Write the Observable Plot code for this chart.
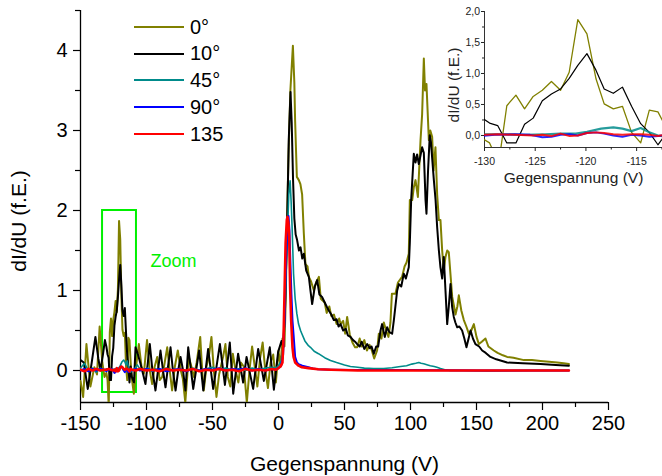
<!DOCTYPE html>
<html><head><meta charset="utf-8">
<script src="https://cdn.jsdelivr.net/npm/d3@7"></script>
<script src="https://cdn.jsdelivr.net/npm/@observablehq/plot@0.6"></script>
<style>
body{margin:0;background:#fff}
#wrap{position:relative;width:662px;height:476px;font-family:"Liberation Sans",Arial,sans-serif;color:#000}
#wrap svg{position:absolute}
#legend{position:absolute;left:134px;top:13.6px}
.row{display:flex;align-items:center;height:26.75px}
.row span{margin-left:6px;font-size:20px;line-height:26.75px}
.ylab{position:absolute;white-space:nowrap;transform:translate(-50%,-50%) rotate(-90deg);line-height:1}
</style></head>
<body><div id="wrap"><div id="legend"></div>
<div class="ylab" style="left:17.5px;top:221px;font-size:21px;">dI/dU (f.E.)</div>
<div class="ylab" style="left:453.5px;top:85px;font-size:15.5px;color:#222">dI/dU (f.E.)</div>
</div>
<script>
// ---- data: [Gegenspannung (V), dI/dU (f.E.)]
const s0 = [[-150,-0.13],[-148,-0.33],[-145.5,0.33],[-142.5,-0.2],[-139.5,0.04],[-137.5,-0.05],[-135.5,0.55],[-133.5,0.1],[-131.8,-0.08],
[-130.4,-0.03],[-129.5,-0.12],[-128.6,-0.45],[-127.8,0.48],[-126.9,0.65],[-126.05,0.43],[-125.2,0.63],[-124.3,0.73],[-123.4,0.87],[-122.5,0.73],[-121.65,1.02],[-120.8,1.87],[-119.9,1.64],[-119.0,0.91],[-118.2,0.51],[-117.3,0.43],[-116.4,0.47],[-115.5,0.05],[-114.6,-0.12],[-113.75,0.41],[-112.9,0.38],[-112.0,0.1],[-111.1,-0.1],
[-109.6,-0.29],[-107.5,0.1],[-105.8,0.33],[-103.8,0.05],[-102,-0.04],[-99.6,0.38],[-97.5,0.0],[-95.7,-0.17],[-93.8,0.05],[-91.9,0.17],[-90,-0.12],[-88.1,-0.08],[-86.2,0.1],[-84.3,0.29],[-82.4,0.0],[-80.6,-0.25],[-78.5,0.05],[-76.3,0.25],[-74,0.0],[-72.5,-0.1],[-70.6,-0.4],[-68.8,0.0],[-67.9,0.17],[-66,0.05],[-64.1,-0.08],[-62,0.1],[-59.3,0.42],[-57.8,0.0],[-56.6,-0.25],[-54.6,0.05],[-52.8,0.17],[-50.8,0.42],[-49,0.0],[-47,-0.33],[-45,-0.05],[-42,0.17],[-40.2,0.33],[-38.4,-0.08],[-36.5,-0.2],[-34.6,0.21],[-32.5,0.0],[-30.4,-0.15],[-28.5,0.1],[-26.3,0.05],[-24,-0.4],[-22,0.0],[-20,0.3],[-18,0.05],[-16,-0.2],[-14,0.15],[-12,0.35],[-10,0.0],[-8,-0.22],[-6,0.1],[-4,0.2],[-2,-0.15],[0,0.25],[1.5,0.05],[3,0.4],[4.5,0.3],[5.5,0.9],[6.5,1.9],[7.6,2.71],[9,3.5],[10.9,4.06],[12,3.6],[12.6,3.12],[13.9,2.42],[15.4,2.38],[16.6,2.33],[17.9,2.2],[19.2,1.71],[20.4,1.33],[22,1.3],[23,1.17],[24.5,1.12],[26.8,1.0],[28.5,1.1],[30.6,1.17],[32,0.9],[33,0.88],[35,0.85],[36.5,0.72],[38.5,0.8],[40,0.68],[42,0.7],[44,0.58],[46,0.65],[47,0.58],[49,0.62],[50.5,0.46],[52,0.67],[54,0.45],[56,0.35],[58,0.29],[59.6,0.29],[61.5,0.4],[63,0.3],[65,0.38],[67,0.25],[69,0.32],[70.7,0.25],[72.5,0.15],[74.7,0.25],[76,0.46],[78,0.4],[79.8,0.6],[81.5,0.5],[83.3,0.42],[84.8,0.6],[85.9,0.96],[88.6,0.96],[90.5,1.1],[93.6,1.17],[95.5,1.3],[97,1.35],[98.7,1.46],[99.5,2.13],[101.3,2.13],[102.5,2.29],[103.8,2.38],[105.6,2.17],[107.6,2.88],[108.8,3.2],[110.1,3.9],[111,3.5],[112.1,3.58],[113.9,2.88],[115,3.0],[116.4,2.92],[117.5,2.5],[118.9,2.79],[120.2,2.2],[121.5,1.88],[122.7,1.88],[124,1.5],[125.2,1.25],[126.5,1.42],[127.8,1.5],[129,1.48],[130.3,1.2],[131.6,0.92],[133,0.8],[134.1,0.7],[135.5,0.8],[136.6,0.94],[138.5,0.75],[140.4,0.63],[142.3,0.55],[144.2,0.46],[146,0.5],[148,0.58],[150,0.42],[151.8,0.33],[154,0.36],[156.8,0.4],[159,0.3],[163.1,0.25],[166,0.22],[170,0.19],[173.2,0.17],[178,0.16],[185.9,0.13],[192,0.13],[198.5,0.12],[205,0.11],[211.1,0.1],[216,0.09],[220,0.08]];

const s10 = [[-150,0.13],[-147.5,0.1],[-144.5,-0.23],[-141.5,0.1],[-138.7,0.42],[-136.5,0.15],[-134.9,0.0],[-133,0.2],[-131.5,0.38],
[-130.4,0.3],[-129.5,0.2],[-128.7,0.16],[-127.8,-0.12],[-126.9,-0.12],[-126.05,0.18],[-125.2,0.28],[-124.3,0.56],[-123.4,0.67],[-122.5,0.75],[-121.65,0.92],[-120.8,1.13],[-119.9,1.32],[-119.0,1.05],[-118.2,0.75],[-117.3,0.68],[-116.4,0.78],[-115.5,0.47],[-114.6,0.19],[-113.75,0.05],[-112.9,-0.15],[-112.0,0.05],[-111.1,-0.08],
[-109.5,-0.15],[-108.3,0.29],[-106.5,0.2],[-104.5,0.08],[-102.5,-0.05],[-100.8,-0.17],[-99,0.1],[-97.5,0.33],[-95.5,0.0],[-93.2,-0.25],[-91.3,0.0],[-89.4,0.25],[-87.5,0.0],[-85.6,-0.21],[-83.7,0.05],[-81.8,0.29],[-80,0.0],[-78,-0.25],[-76,0.0],[-74.2,0.17],[-72.3,0.0],[-70.5,-0.25],[-68.4,0.29],[-64.6,-0.23],[-60.1,0.25],[-57,-0.25],[-53.3,0.27],[-49.5,-0.23],[-44.4,0.33],[-40.6,-0.18],[-36.9,0.35],[-34.3,-0.29],[-30.6,0.21],[-26.8,-0.15],[-24.2,0.17],[-19.2,-0.23],[-15.4,0.27],[-11.1,-0.13],[-6.6,0.29],[-3.5,-0.24],[-0.3,0.23],[2.3,0.37],[3.5,0.3],[5,0.8],[6.5,1.8],[7.8,2.9],[9.1,3.48],[10,3.1],[11,2.4],[12,1.9],[13,1.7],[14.1,1.63],[15.5,1.5],[16.7,1.54],[18,1.4],[19.2,1.46],[21,1.25],[23,1.17],[24.2,1.0],[25.5,0.83],[27.5,1.05],[29.3,1.13],[31,0.95],[33,0.92],[35,0.85],[36.5,0.8],[38.1,0.75],[40,0.7],[41.9,0.63],[44,0.64],[45.5,0.55],[47,0.58],[49,0.5],[51,0.52],[52.5,0.44],[54.5,0.42],[56.5,0.38],[58,0.36],[59.6,0.33],[61.5,0.3],[63,0.36],[65,0.27],[67.2,0.33],[69,0.28],[70.5,0.3],[72.2,0.21],[74,0.3],[75.5,0.3],[77.3,0.5],[78.5,0.58],[80.5,0.42],[82.3,0.54],[84,0.48],[86.1,0.46],[87.4,0.63],[89.9,1.0],[91.2,1.08],[93,1.05],[94.9,1.21],[96.5,1.15],[98.7,1.29],[99.5,1.6],[100.5,2.13],[102.5,2.71],[103.8,2.6],[105,2.7],[106.3,2.58],[108.8,2.79],[110.1,2.72],[111.4,2.13],[112.1,1.96],[113.3,2.5],[114.6,2.94],[115.5,2.85],[117.7,2.38],[119,2.13],[120.2,1.79],[121.5,1.5],[122.7,1.29],[124,1.15],[125.2,1.42],[126.5,1.0],[127.8,0.58],[129,0.8],[130.3,1.08],[131.5,0.8],[132.8,0.67],[134,0.6],[135.4,0.54],[137,0.55],[139.1,0.5],[140.8,0.4],[142.4,0.29],[144,0.4],[145.5,0.5],[147.3,0.4],[149.2,0.33],[152,0.3],[154.3,0.25],[157,0.22],[160.6,0.17],[165,0.14],[173.2,0.1],[185,0.09],[198.5,0.08],[210,0.07],[220,0.06]];

const s45 = [[-150,0.03],[-147,0.09],[-144,0.0],[-141,0.03],[-138,-0.02],[-135,0.03],[-132,0.0],
[-130.4,0.02],[-128,0.02],[-126,0.01],[-124,0.02],[-122.5,0.03],[-121,0.03],[-119.9,0.06],[-118.5,0.11],[-117.3,0.13],[-116.4,0.11],[-115.5,0.07],[-114.6,0.12],[-113.75,0.05],[-112.9,0.0],[-112,-0.02],[-111,0.01],
[-109,0.02],[-107,0.07],[-105,0.02],[-102,0.0],[-99,0.03],[-96,-0.01],[-93,0.02],[-90,0.0],[-85,0.03],[-80,0.0],[-75,0.02],[-70,-0.01],[-65,0.03],[-60,0.0],[-55,0.02],[-50,0.04],[-45,0.01],[-40,0.03],[-35,0.0],[-30,0.02],[-25,0.0],[-20,0.03],[-15,0.01],[-10,0.03],[-5,0.04],[-2,0.03],[0,0.06],[2,0.12],[3.5,0.3],[5,0.8],[6.5,1.6],[7.8,2.2],[8.8,2.37],[9.6,2.1],[10.3,1.79],[11.4,1.21],[12.6,0.9],[13.9,0.71],[15.2,0.58],[16.7,0.5],[17.7,0.46],[20,0.37],[22.7,0.31],[24.2,0.29],[27,0.24],[30.3,0.21],[35,0.16],[39.4,0.125],[44,0.1],[50,0.07],[54.5,0.05],[60,0.04],[65,0.03],[72,0.025],[79.7,0.025],[86,0.035],[92.4,0.05],[97,0.06],[101,0.08],[104,0.09],[106.3,0.1],[108,0.09],[110,0.085],[113,0.07],[115,0.06],[118,0.05],[120,0.04],[122.7,0.025],[126,0.01],[130,0.0],[140,0.0],[160,-0.005],[190,0.0],[220,0.0]];

const s90 = [[-150,0.0],[-147,0.02],[-144,-0.01],[-141,0.02],[-138,0.0],[-135,0.02],[-132,0.01],
[-130.4,-0.01],[-129,0.01],[-127,0.02],[-125.5,0.01],[-124.3,-0.03],[-123.4,-0.02],[-122.5,0.01],[-121.6,0.02],[-120.8,0.0],[-119.9,0.04],[-119,0.05],[-118.2,0.03],[-117.3,0.0],[-116.4,-0.02],[-115.5,0.01],[-114.6,0.0],[-113.75,-0.02],[-112.9,-0.01],[-112,0.01],[-111,0.0],
[-108,0.02],[-105,0.0],[-100,0.02],[-95,0.0],[-90,0.02],[-85,-0.01],[-80,0.01],[-75,0.02],[-70,-0.01],[-65,0.02],[-60,0.0],[-55,0.02],[-50,0.01],[-45,0.03],[-40,0.0],[-35,0.02],[-30,0.01],[-25,0.03],[-20,0.0],[-15,0.02],[-10,0.0],[-5,0.02],[-2,0.01],[0,0.03],[2,0.06],[3.5,0.2],[4.5,0.6],[5.5,1.3],[6.8,1.85],[7.6,1.93],[8.3,1.75],[8.8,1.46],[9.8,0.95],[10.6,0.62],[11.4,0.45],[12.6,0.17],[14,0.1],[15.2,0.08],[18,0.06],[22.7,0.04],[26,0.025],[30,0.015],[40,0.01],[60,0.005],[100,0.005],[150,0.0],[220,0.0]];

const s135 = [[-150,0.01],[-147,-0.01],[-144,0.02],[-141,0.0],[-138,0.02],[-135,0.0],[-132,0.01],
[-130.4,0.01],[-128.7,0.02],[-127,0.01],[-125.2,0.0],[-124.3,0.01],[-123.4,-0.01],[-122.5,0.03],[-121.6,-0.01],[-120.8,0.0],[-119.9,0.04],[-119,0.05],[-118.2,0.04],[-117.3,0.02],[-116.4,0.01],[-115.5,0.02],[-114.6,0.02],[-113.75,0.01],[-112.9,-0.01],[-112,0.02],[-111,0.01],
[-108,0.0],[-105,0.02],[-100,0.0],[-95,0.01],[-90,-0.01],[-85,0.02],[-80,0.0],[-75,0.01],[-70,0.0],[-65,0.02],[-60,-0.01],[-55,0.01],[-50,0.0],[-45,0.02],[-40,0.0],[-35,0.01],[-30,-0.01],[-25,0.02],[-20,0.0],[-15,0.01],[-10,0.0],[-5,0.02],[-2,0.01],[0,0.03],[1.5,0.05],[2.5,0.08],[3,0.1],[3.8,0.4],[4.6,1.0],[5.4,1.6],[6.3,1.88],[6.8,1.92],[7.5,1.85],[8.1,1.67],[8.8,1.04],[9.6,0.62],[10.6,0.29],[11.4,0.17],[12.6,0.1],[15.2,0.06],[17.7,0.04],[22.7,0.03],[30,0.015],[40,0.01],[60,0.0],[100,0.0],[150,0.0],[220,0.0]];

const seriesNames  = ["0°", "10°", "45°", "90°", "135"];
const seriesColors = ["#808000", "#000000", "#008b8b", "#0000ff", "#ff0000"];
const seriesData   = [s0, s10, s45, s90, s135];

const xTicks = [-150, -100, -50, 0, 50, 100, 150, 200, 250];
const xMinor = [-125, -75, -25, 25, 75, 125, 175, 225];
const yTicks = [0, 1, 2, 3, 4];
const yMinor = [0.5, 1.5, 2.5, 3.5, 4.5];
const xDomain = [-150, 250];
const yDomain = [-0.4, 4.5];

const zoomBox = [{x1: -133.3, x2: -107.6, y1: -0.275, y2: 2.0}];
const zoomLabel = [{x: -97, y: 1.3, text: "Zoom"}];

const insetXDomain = [-130, -112.45];
const insetYDomain = [-0.194, 2.0];
const insetXTicks = [-130, -125, -120, -115];
const insetXMinor = [-127.5, -122.5, -117.5, -112.5];
const insetYTicks = [0, 0.5, 1.0, 1.5, 2.0];
const insetYMinor = [0.25, 0.75, 1.25, 1.75];

const mainWidths  = [2, 2, 1.6, 2, 2.6];
const insetWidths = [1.3, 1.2, 2.2, 2, 2];

const xAcc = d => d[0], yAcc = d => d[1];
const font = "Liberation Sans, Arial, sans-serif";

const main = Plot.plot({
  width: 662, height: 476,
  marginLeft: 80, marginRight: 54, marginTop: 10, marginBottom: 74,
  x: {domain: xDomain}, y: {domain: yDomain},
  style: {fontFamily: font, background: "transparent", color: "#000", overflow: "visible"},
  marks: [
    Plot.ruleX([xDomain[0]], {stroke: "#000", strokeWidth: 1.3}),
    Plot.ruleY([yDomain[0]], {stroke: "#000", strokeWidth: 1.3}),
    Plot.axisX({ticks: xTicks, tickSize: 8, tickPadding: 5, fontSize: 20, tickFormat: d => String(d), label: null, strokeWidth: 1.2}),
    Plot.axisX({ticks: xMinor, tickSize: 5, text: null, label: null, strokeWidth: 1.2}),
    Plot.axisY({ticks: yTicks, tickSize: 7, tickPadding: 6, fontSize: 20, tickFormat: d => String(d), label: null, strokeWidth: 1.2}),
    Plot.axisY({ticks: yMinor, tickSize: 5, text: null, label: null, strokeWidth: 1.2}),
    Plot.rect(zoomBox, {x1: "x1", x2: "x2", y1: "y1", y2: "y2", fill: "none", stroke: "#00f000", strokeWidth: 2}),
    ...seriesData.map((s, i) => Plot.line(s, {x: xAcc, y: yAcc, stroke: seriesColors[i], strokeWidth: mainWidths[i], clip: true, strokeLinejoin: "round"})),
    Plot.text(zoomLabel, {x: "x", y: "y", text: "text", fill: "#00f000", fontSize: 18, textAnchor: "start", lineAnchor: "bottom"}),
    Plot.text(["Gegenspannung (V)"], {frameAnchor: "bottom", textAnchor: "middle", lineAnchor: "bottom", dy: 68, fontSize: 21, fill: "#000"})
  ]
});
main.style.left = "0px"; main.style.top = "0px";

const inset = Plot.plot({
  width: 222, height: 200,
  marginLeft: 44, marginRight: 0, marginTop: 11, marginBottom: 53,
  x: {domain: insetXDomain}, y: {domain: insetYDomain},
  style: {fontFamily: font, background: "transparent", color: "#222", overflow: "visible"},
  marks: [
    Plot.ruleX([insetXDomain[0]], {stroke: "#333", strokeWidth: 1}),
    Plot.ruleY([insetYDomain[0]], {stroke: "#333", strokeWidth: 1}),
    Plot.axisX({ticks: insetXTicks, tickSize: 4, tickPadding: 6, fontSize: 10.5, tickFormat: d => String(d), label: null}),
    Plot.axisX({ticks: insetXMinor, tickSize: 2.5, text: null, label: null}),
    Plot.axisY({ticks: insetYTicks, tickSize: 3, tickPadding: 1.5, fontSize: 10.5, tickFormat: d => d.toFixed(1).replace(".", ","), label: null}),
    Plot.axisY({ticks: insetYMinor, tickSize: 2, text: null, label: null}),
    ...seriesData.map((s, i) => Plot.line(s, {x: xAcc, y: yAcc, stroke: seriesColors[i], strokeWidth: insetWidths[i], clip: true, strokeLinejoin: "round", strokeOpacity: i >= 2 ? 0.85 : 1})),
    Plot.text(["Gegenspannung (V)"], {frameAnchor: "bottom", textAnchor: "middle", lineAnchor: "bottom", dy: 35, fontSize: 15.5, fill: "#222"})
  ]
});
inset.style.left = "440px"; inset.style.top = "0px";

const wrap = document.getElementById("wrap");
wrap.insertBefore(inset, wrap.firstChild);
wrap.insertBefore(main, wrap.firstChild);

const legend = document.getElementById("legend");
seriesNames.forEach((name, i) => {
  const row = document.createElement("div");
  row.className = "row";
  row.innerHTML = `<svg width="50" height="4" style="position:static"><line x1="0" x2="50" y1="2" y2="2" stroke="${seriesColors[i]}" stroke-width="2"/></svg><span>${name}</span>`;
  legend.appendChild(row);
});
</script></body></html>
